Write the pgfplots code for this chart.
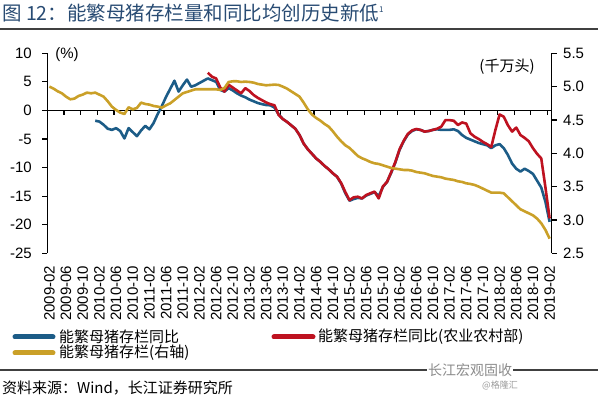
\documentclass[border=0pt]{standalone}
\usepackage{pgfplots}
\pgfplotsset{compat=1.18}
\usepackage{pgfplotstable}
\usepackage{fontspec}
\setmainfont{Liberation Sans}
\newfontfamily\cjk{Noto Sans CJK SC}
\definecolor{cblue}{RGB}{28,92,135}
\definecolor{cred}{RGB}{190,18,32}
\definecolor{cgold}{RGB}{202,160,40}
\definecolor{ctitle}{RGB}{40,75,115}

\pgfplotstableread{
x y
11 -1.8
12 -1.95
13 -2.5
14 -3.2
15 -3.4
16 -3.1
17 -3.6
18 -4.9
19 -3.1
20 -3.8
21 -4.5
22 -3.5
23 -2.7
24 -3.3
25 -2.2
26 -0.6
27 0.8
28 2.4
29 3.8
30 5.2
31 3.3
32 4.4
33 5.4
34 4.15
35 4.4
36 4.8
37 5.2
38 5.6
39 5.3
40 5.0
41 3.6
42 3.3
43 3.9
44 3.5
45 3.0
46 2.6
47 2.3
48 1.9
49 1.6
50 1.3
51 1.1
52 0.95
53 0.9
54 0.5
55 -0.7
56 -1.5
57 -2.0
58 -2.6
59 -3.2
60 -4.3
61 -5.8
62 -6.8
63 -7.6
64 -8.4
65 -9.0
66 -9.7
67 -10.3
68 -11.0
69 -11.6
70 -12.8
71 -14.5
72 -15.8
73 -15.5
74 -15.3
75 -15.4
76 -14.9
77 -14.6
78 -14.3
79 -15.0
80 -13.4
81 -12.5
82 -10.9
83 -9.1
84 -6.9
85 -5.4
86 -4.2
87 -3.6
88 -3.3
89 -3.4
90 -3.7
91 -3.6
92 -3.4
93 -3.3
94 -3.4
95 -3.4
96 -3.4
97 -3.3
98 -3.6
99 -4.3
100 -4.8
101 -5.1
102 -5.4
103 -5.7
104 -5.9
105 -6.1
106 -6.6
107 -6.1
108 -5.9
109 -6.6
110 -7.8
111 -9.3
112 -10.2
113 -10.7
114 -10.2
115 -10.6
116 -11.1
117 -12.3
118 -13.5
119 -16.0
120 -19.5
}\tblblue

\pgfplotstableread{
x y
38 6.6
39 5.9
40 5.6
41 4.0
42 3.3
43 4.5
44 4.0
45 3.5
46 3.0
47 3.9
48 3.4
49 2.7
50 2.2
51 1.8
52 1.4
53 1.1
54 0.9
55 -0.8
56 -1.5
57 -2.0
58 -2.6
59 -3.2
60 -4.3
61 -5.8
62 -6.8
63 -7.6
64 -8.4
65 -9.0
66 -9.7
67 -10.3
68 -11.0
69 -11.6
70 -12.7
71 -14.3
72 -15.7
73 -15.2
74 -15.1
75 -15.4
76 -14.8
77 -14.5
78 -14.2
79 -15.4
80 -13.3
81 -12.5
82 -10.8
83 -9.0
84 -6.8
85 -5.3
86 -4.1
87 -3.5
88 -3.25
89 -3.4
90 -3.7
91 -3.6
92 -3.4
93 -3.2
94 -2.85
95 -1.7
96 -1.7
97 -1.8
98 -2.55
99 -2.1
100 -2.3
101 -4.0
102 -4.6
103 -5.0
104 -5.5
105 -5.9
106 -6.4
107 -3.4
108 -0.7
109 -1.1
110 -2.6
111 -3.7
112 -3.0
113 -4.3
114 -4.8
115 -5.4
116 -6.6
117 -7.6
118 -8.4
119 -13.5
120 -18.9
}\tblred

\pgfplotstableread{
x y
0 5.00
1 4.97
2 4.93
3 4.90
4 4.85
5 4.81
6 4.82
7 4.86
8 4.88
9 4.91
10 4.90
11 4.91
12 4.88
13 4.85
14 4.78
15 4.70
16 4.65
17 4.61
18 4.59
19 4.69
20 4.66
21 4.68
22 4.76
23 4.74
24 4.73
25 4.71
26 4.70
27 4.685
28 4.72
29 4.75
30 4.80
31 4.85
32 4.90
33 4.92
34 4.94
35 4.96
36 4.96
37 4.96
38 4.96
39 4.96
40 4.96
41 4.95
42 4.98
43 5.07
44 5.08
45 5.08
46 5.07
47 5.075
48 5.07
49 5.06
50 5.04
51 5.03
52 5.02
53 5.025
54 5.03
55 5.025
56 5.00
57 4.97
58 4.93
59 4.89
60 4.85
61 4.76
62 4.66
63 4.58
64 4.53
65 4.49
66 4.44
67 4.40
68 4.33
69 4.25
70 4.18
71 4.12
72 4.08
73 4.02
74 3.96
75 3.925
76 3.90
77 3.87
78 3.85
79 3.84
80 3.82
81 3.80
82 3.78
83 3.77
84 3.76
85 3.75
86 3.75
87 3.74
88 3.72
89 3.71
90 3.70
91 3.68
92 3.66
93 3.65
94 3.64
95 3.62
96 3.61
97 3.60
98 3.58
99 3.57
100 3.55
101 3.54
102 3.525
103 3.50
104 3.47
105 3.44
106 3.41
107 3.41
108 3.41
109 3.40
110 3.34
111 3.28
112 3.22
113 3.16
114 3.13
115 3.10
116 3.07
117 3.02
118 2.95
119 2.85
120 2.72
}\tblgold

\begin{document}
\begin{tikzpicture}[x=1pt,y=1pt]
\path[use as bounding box] (0,0) rectangle (600,399);
\pgfplotsset{
  base/.style={at={(47.3pt,145.7pt)}, anchor=south west, scale only axis,
    width=504.4pt, height=200pt, xmin=-0.5, xmax=120.5,
    /pgf/number format/assume math mode=true,
    tick label style={font=\fontsize{15}{15}\selectfont},
    every tick/.style={black, line width=1.2pt},
    major tick length=5pt}
}
% left axis
\begin{axis}[base, ymin=-25, ymax=10, axis y line*=left, axis x line*=bottom,
  x axis line style={draw=none}, xtick style={draw=none},
  y axis line style={line width=1.2pt, black},
  ytick={-25,-20,...,10}, ytick align=outside, yticklabel shift=7pt,
  xtick={0,4,...,120},
  xticklabels={2009-02,2009-06,2009-10,2010-02,2010-06,2010-10,2011-02,2011-06,2011-10,2012-02,2012-06,2012-10,2013-02,2013-06,2013-10,2014-02,2014-06,2014-10,2015-02,2015-06,2015-10,2016-02,2016-06,2016-10,2017-02,2017-06,2017-10,2018-02,2018-06,2018-10,2019-02},
  x tick label style={rotate=90, anchor=east},
  xticklabel shift=9pt]
% zero line and its tick marks
\draw[black, line width=1.2pt] (axis cs:-0.5,0) -- (axis cs:120.5,0);
\pgfplotsinvokeforeach{3.5,7.5,...,119.5}{\draw[black, line width=1.2pt] (axis cs:#1,0) -- ++(0pt,-5pt);}
\addplot[cblue, line width=2.6pt, line join=round] table[x=x,y=y] {\tblblue};
\addplot[cred, line width=2.6pt, line join=round] table[x=x,y=y] {\tblred};
\end{axis}
% right axis
\begin{axis}[base, ymin=2.5, ymax=5.5, axis y line*=right, axis x line=none,
  y axis line style={line width=1.2pt, black},
  ytick={2.5,3.0,...,5.5}, ytick align=outside, yticklabel shift=3pt,
  yticklabel style={/pgf/number format/.cd, fixed, fixed zerofill, precision=1}]
\addplot[cgold, line width=2.6pt, line join=round] table[x=x,y=y] {\tblgold};
\end{axis}
% annotations
\node[anchor=center, font=\fontsize{15}{15}\selectfont] at (67,344) {(\%)};
\node[anchor=center, font=\cjk\fontsize{15}{15}\selectfont] at (507,332) {(千万头)};
% title
\node[anchor=west, inner sep=0pt, text=ctitle, font=\cjk\fontsize{19.5}{19.5}\selectfont] at (2,386) {图 12：能繁母猪存栏量和同比均创历史新低\textsuperscript{\fontsize{8}{8}\selectfont 1}};
\draw[line width=1.2pt, black!75] (0,370) -- (598,370);
% legend
\draw[cblue, line width=5pt, line cap=round] (15,62) -- (53,62);
\node[anchor=west, inner sep=0pt, font=\cjk\fontsize{15}{15}\selectfont] at (59,62) {能繁母猪存栏同比};
\draw[cred, line width=5pt, line cap=round] (274,62) -- (313,62);
\node[anchor=west, inner sep=0pt, font=\cjk\fontsize{15}{15}\selectfont] at (318,62) {能繁母猪存栏同比(农业农村部)};
\draw[cgold, line width=5pt, line cap=round] (15,46) -- (53,46);
\node[anchor=west, inner sep=0pt, font=\cjk\fontsize{15}{15}\selectfont] at (59,46) {能繁母猪存栏(右轴)};
% bottom rule and source
\draw[line width=1.2pt, black!75] (0,29) -- (598,29);
\node[anchor=center, fill=white, inner sep=1pt, text=black!45, font=\cjk\fontsize{14}{14}\selectfont] at (470,29) {长江宏观固收};
\node[anchor=center, text=black!40, font=\cjk\fontsize{9}{9}\selectfont] at (500,14) {@格隆汇};
\node[anchor=west, inner sep=0pt, font=\cjk\fontsize{15}{15}\selectfont] at (2,11) {资料来源：Wind，长江证券研究所};
\end{tikzpicture}
\end{document}
